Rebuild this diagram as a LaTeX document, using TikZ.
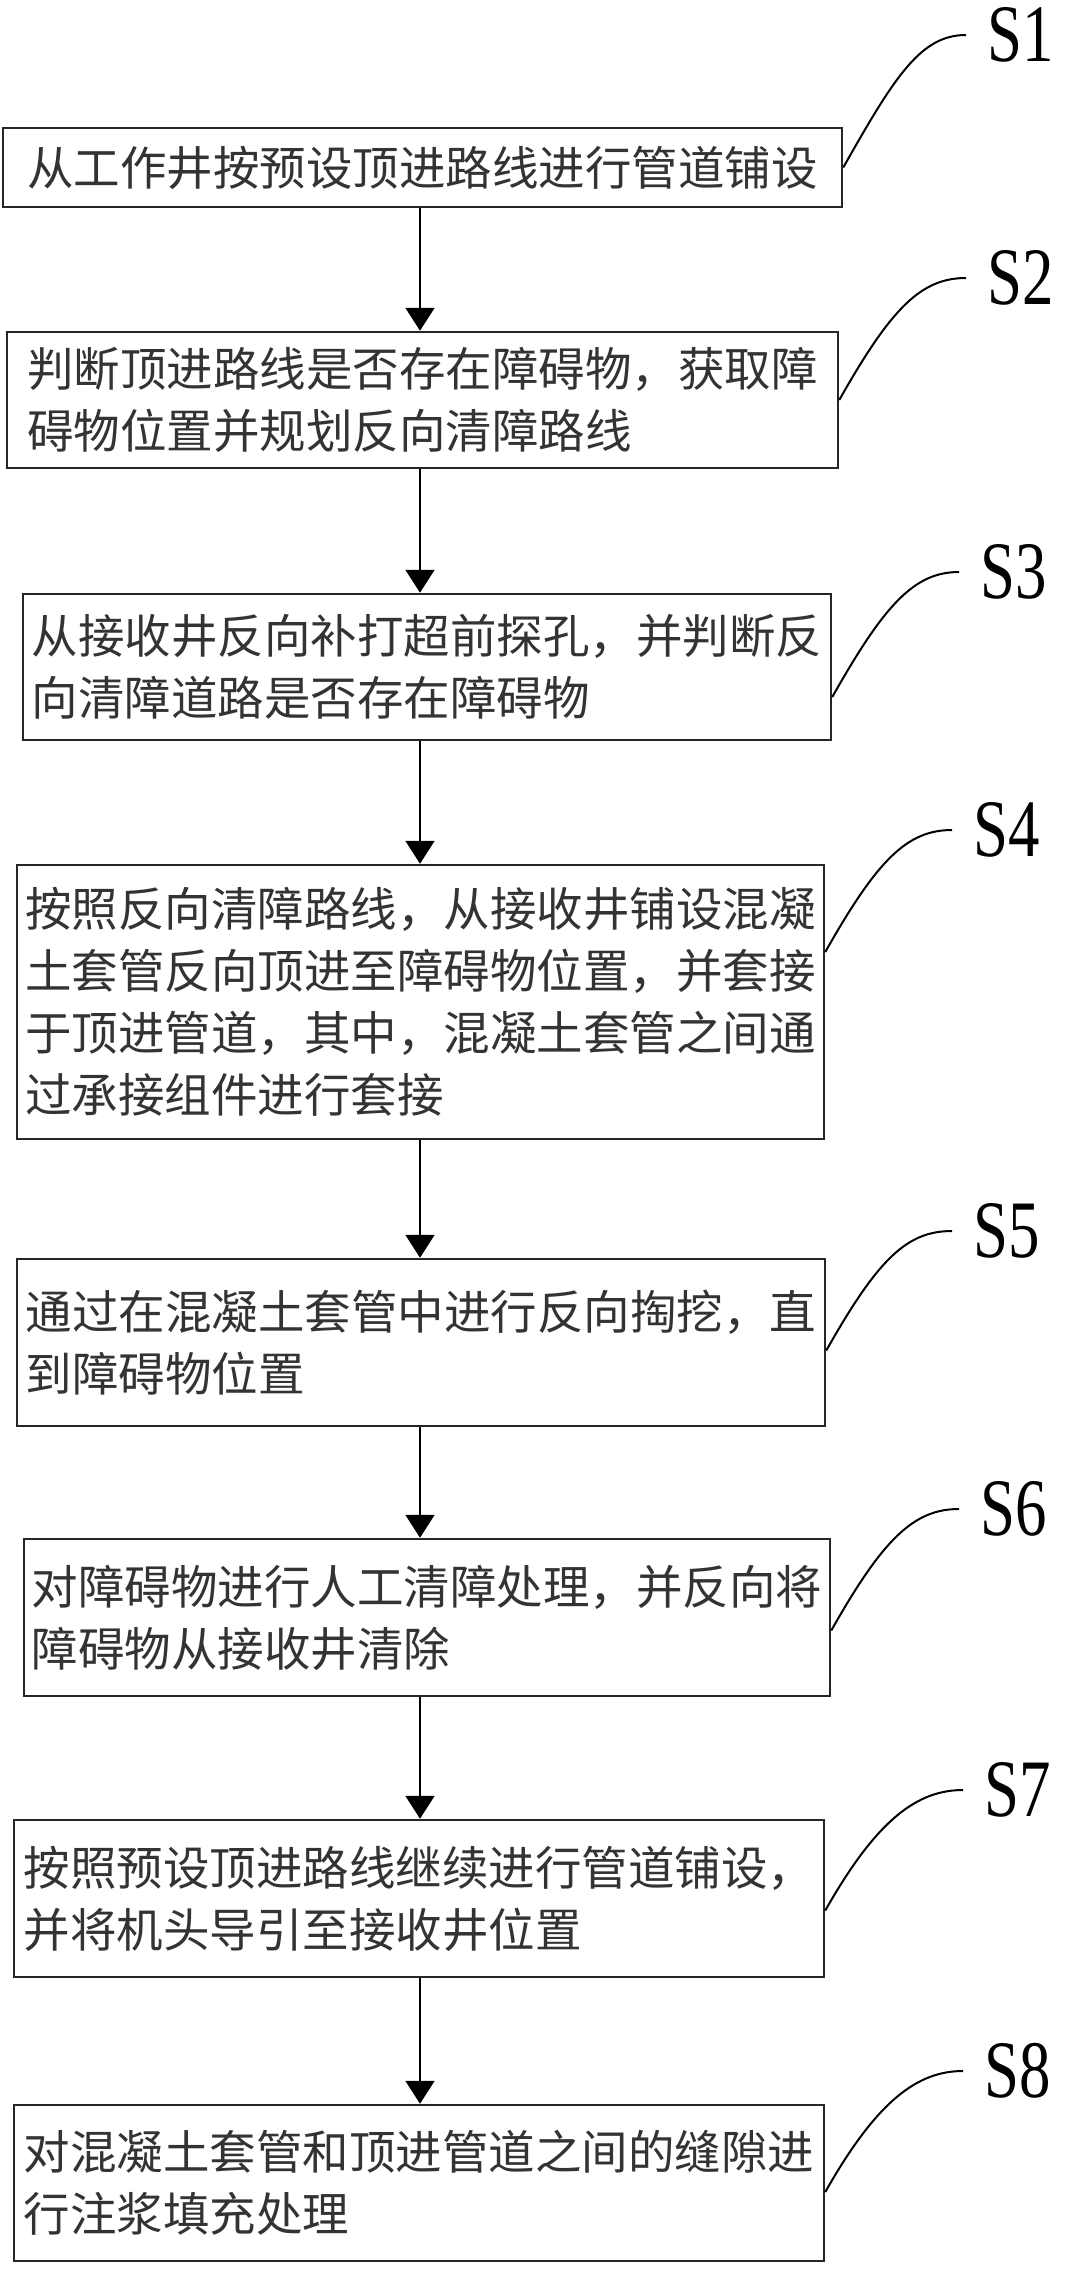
\documentclass[tikz,border=0pt]{standalone}
\usepackage{fontspec}
\usepackage{graphicx}
\setmainfont{Liberation Serif}
\newfontfamily\cjk{Noto Sans CJK SC}
\usetikzlibrary{arrows.meta}
\begin{document}
\begin{tikzpicture}[x=1pt,y=-1pt,
  stepbox/.style={draw=black!85, line width=2.5pt, inner sep=0pt, align=left,
    text=black!80, font=\cjk\fontsize{46.5}{62}\selectfont},
  lab/.style={inner sep=0pt, anchor=west, font=\fontsize{81.6}{90}\selectfont},
  arr/.style={draw=black, line width=2pt, -{Triangle[width=29pt,length=23pt]}},
  lead/.style={draw=black, line width=2pt}]
\fill[white] (0,0) rectangle (1081,2283);
\useasboundingbox (0,0) rectangle (1081,2283);

\node[stepbox, minimum width=839pt, minimum height=79pt] (S1) at (422.5,167.5)
  {从工作井按预设顶进路线进行管道铺设};
\node[stepbox, minimum width=831pt, minimum height=136pt] (S2) at (422.5,400)
  {判断顶进路线是否存在障碍物，获取障\\碍物位置并规划反向清障路线};
\node[stepbox, minimum width=808pt, minimum height=146pt] (S3) at (427,667)
  {从接收井反向补打超前探孔，并判断反\\向清障道路是否存在障碍物};
\node[stepbox, minimum width=807pt, minimum height=274pt] (S4) at (420.5,1002)
  {按照反向清障路线，从接收井铺设混凝\\土套管反向顶进至障碍物位置，并套接\\于顶进管道，其中，混凝土套管之间通\\过承接组件进行套接};
\node[stepbox, minimum width=808pt, minimum height=167pt] (S5) at (421,1342.5)
  {通过在混凝土套管中进行反向掏挖，直\\到障碍物位置};
\node[stepbox, minimum width=806pt, minimum height=157pt] (S6) at (427,1617.5)
  {对障碍物进行人工清障处理，并反向将\\障碍物从接收井清除};
\node[stepbox, minimum width=810pt, minimum height=157pt] (S7) at (419,1898.5)
  {按照预设顶进路线继续进行管道铺设，\\并将机头导引至接收井位置};
\node[stepbox, minimum width=810pt, minimum height=156pt] (S8) at (419,2183)
  {对混凝土套管和顶进管道之间的缝隙进\\行注浆填充处理};

\node[lab] (L1) at (987,35) {\scalebox{0.77}[1]{S1}};
\node[lab] (L2) at (987,278) {\scalebox{0.77}[1]{S2}};
\node[lab] (L3) at (980,572) {\scalebox{0.77}[1]{S3}};
\node[lab] (L4) at (973,830) {\scalebox{0.77}[1]{S4}};
\node[lab] (L5) at (973,1231) {\scalebox{0.77}[1]{S5}};
\node[lab] (L6) at (980,1509) {\scalebox{0.77}[1]{S6}};
\node[lab] (L7) at (984,1790) {\scalebox{0.77}[1]{S7}};
\node[lab] (L8) at (984,2071) {\scalebox{0.77}[1]{S8}};

\coordinate (ax) at (420,0);
\draw[arr] (S1.south -| ax) -- (S2.north -| ax);
\draw[arr] (S2.south -| ax) -- (S3.north -| ax);
\draw[arr] (S3.south -| ax) -- (S4.north -| ax);
\draw[arr] (S4.south -| ax) -- (S5.north -| ax);
\draw[arr] (S5.south -| ax) -- (S6.north -| ax);
\draw[arr] (S6.south -| ax) -- (S7.north -| ax);
\draw[arr] (S7.south -| ax) -- (S8.north -| ax);

\draw[lead] (S1.east) .. controls +(52,-92) and +(-45,0) .. ([xshift=-21pt]L1.west);
\draw[lead] (S2.east) .. controls +(52,-92) and +(-45,0) .. ([xshift=-21pt]L2.west);
\draw[lead] ([yshift=-30pt]S3.east) .. controls +(52,-92) and +(-45,0) .. ([xshift=-21pt]L3.west);
\draw[lead] ([yshift=50pt]S4.east) .. controls +(52,-92) and +(-45,0) .. ([xshift=-21pt]L4.west);
\draw[lead] ([yshift=-8pt]S5.east) .. controls +(52,-92) and +(-45,0) .. ([xshift=-21pt]L5.west);
\draw[lead] ([yshift=-13pt]S6.east) .. controls +(52,-92) and +(-45,0) .. ([xshift=-21pt]L6.west);
\draw[lead] ([yshift=-12pt]S7.east) .. controls +(52,-92) and +(-45,0) .. ([xshift=-21pt]L7.west);
\draw[lead] ([yshift=-9pt]S8.east) .. controls +(52,-92) and +(-45,0) .. ([xshift=-21pt]L8.west);
\end{tikzpicture}
\end{document}
